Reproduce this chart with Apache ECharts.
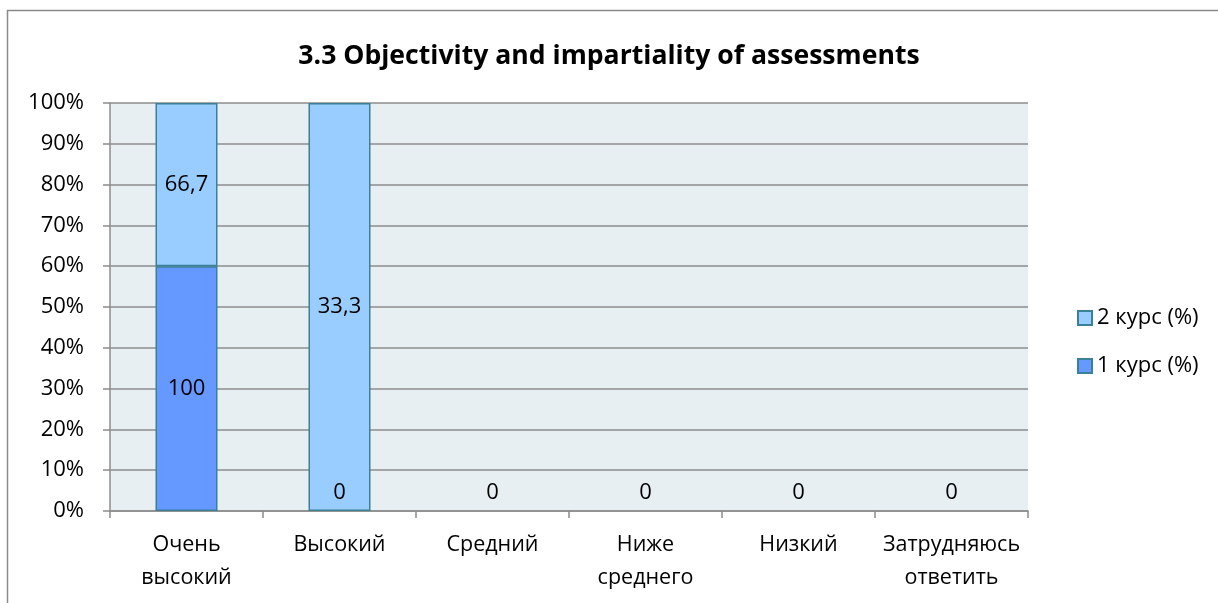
<!DOCTYPE html>
<html>
<head>
<meta charset="utf-8">
<script src="https://cdn.jsdelivr.net/npm/echarts@6/dist/echarts.min.js"></script>
<style>
html,body{margin:0;padding:0;background:#fff;}
#c{width:1218px;height:603px;}
</style>
</head>
<body>
<div id="c"></div>
<script>
const title = '3.3 Objectivity and impartiality of assessments';
const categories = ['Очень\nвысокий', 'Высокий', 'Средний', 'Ниже\nсреднего', 'Низкий', 'Затрудняюсь\nответить'];
const course1 = [100, 0, 0, 0, 0, 0];
const course2 = [66.7, 33.3, 0, 0, 0, 0];
const yTicks = [0, 10, 20, 30, 40, 50, 60, 70, 80, 90, 100];

const totals = categories.map((_, i) => course1[i] + course2[i]);
const fmt = (v) => String(v).replace('.', ',');
const FONT = 'Open Sans';
const BORDER = '#3A8096';

function build(arr, showZero) {
  return arr.map((v, i) => {
    const item = { value: totals[i] ? v / totals[i] * 100 : 0, raw: v };
    if (v === 0) {
      item.itemStyle = { borderWidth: 0 };
      item.label = showZero
        ? { show: true, position: 'top', distance: 7 }
        : { show: false };
    }
    return item;
  });
}

const chart = echarts.init(document.getElementById('c'));
chart.setOption({
  animation: false,
  backgroundColor: '#fff',
  textStyle: { fontFamily: FONT },
  title: {
    text: title, left: 'center', top: 38,
    textStyle: { fontFamily: FONT, fontSize: 26.6, fontWeight: 'bold', color: '#000' }
  },
  graphic: [{
    type: 'rect', shape: { x: 7.5, y: 10.5, width: 1230, height: 620 },
    style: { fill: null, stroke: '#8a8a8a', lineWidth: 1.5 }, silent: true, z: -10
  }],
  legend: {
    orient: 'vertical', left: 1072, top: 302, itemGap: 26,
    itemWidth: 14, itemHeight: 14, icon: 'rect',
    data: ['2 курс (%)', '1 курс (%)'],
    textStyle: { fontFamily: FONT, fontSize: 22, color: '#000', padding: [0, 0, 0, 0] }
  },
  grid: { left: 110, right: 190, top: 103, bottom: 92, backgroundColor: '#E8EFF3', show: true, borderWidth: 0 },
  xAxis: {
    type: 'category', data: categories,
    axisLine: { lineStyle: { color: '#8c8c8c', width: 1.5 } },
    axisTick: { show: true, interval: 0, length: 7, lineStyle: { color: '#8c8c8c', width: 1.5 } },
    axisLabel: { interval: 0, color: '#000', fontSize: 21.5, fontFamily: FONT, lineHeight: 33, margin: 17 }
  },
  yAxis: {
    type: 'value', min: 0, max: 100, interval: 10,
    axisLine: { show: true, lineStyle: { color: '#8c8c8c', width: 1.5 } },
    axisTick: { show: true, length: 7, lineStyle: { color: '#8c8c8c', width: 1.5 } },
    splitLine: { lineStyle: { color: '#8c8c8c', width: 1.5 } },
    axisLabel: { color: '#000', fontSize: 22, fontFamily: FONT, margin: 26,
      formatter: (v) => yTicks.includes(v) ? v + '%' : '' }
  },
  series: [
    {
      name: '1 курс (%)', type: 'bar', stack: 's', barWidth: 62,
      data: build(course1, true),
      itemStyle: { color: '#6699FF', borderColor: BORDER, borderWidth: 1.5 },
      label: { show: true, position: 'inside', color: '#000', fontSize: 22, fontFamily: FONT,
        formatter: (p) => fmt(p.data.raw) }
    },
    {
      name: '2 курс (%)', type: 'bar', stack: 's', barWidth: 62,
      data: build(course2, false),
      itemStyle: { color: '#99CCFF', borderColor: BORDER, borderWidth: 1.5 },
      label: { show: true, position: 'inside', color: '#000', fontSize: 22, fontFamily: FONT,
        formatter: (p) => fmt(p.data.raw) }
    }
  ]
});
</script>
</body>
</html>
